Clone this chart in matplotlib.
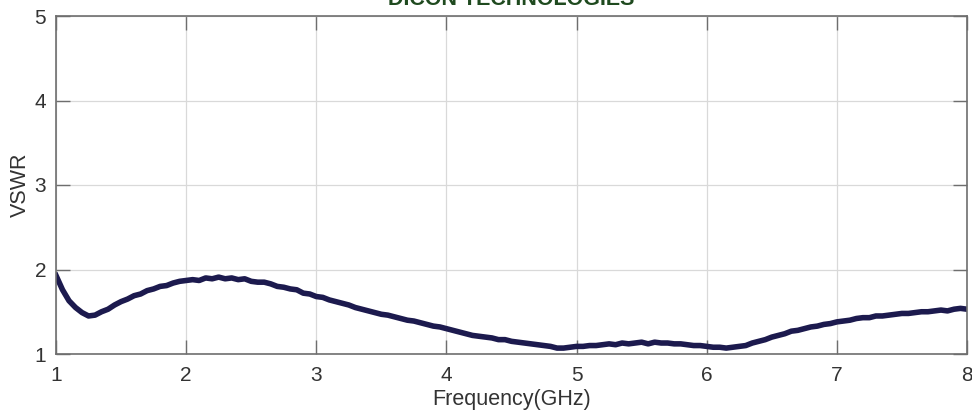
import numpy as np
import matplotlib
matplotlib.use("Agg")
import matplotlib.pyplot as plt

plt.rcParams['font.family'] = ['Liberation Sans', 'DejaVu Sans']

freq_start = 1.0
freq_step = 0.05
vswr = [
    1.93, 1.76, 1.63, 1.55, 1.49, 1.45, 1.46, 1.50, 1.53, 1.58,
    1.62, 1.65, 1.69, 1.71, 1.75, 1.77, 1.80, 1.81, 1.84, 1.86,
    1.87, 1.88, 1.87, 1.90, 1.89, 1.91, 1.89, 1.90, 1.88, 1.89,
    1.86, 1.85, 1.85, 1.83, 1.80, 1.79, 1.77, 1.76, 1.72, 1.71,
    1.68, 1.67, 1.64, 1.62, 1.60, 1.58, 1.55, 1.53, 1.51, 1.49,
    1.47, 1.46, 1.44, 1.42, 1.40, 1.39, 1.37, 1.35, 1.33, 1.32,
    1.30, 1.28, 1.26, 1.24, 1.22, 1.21, 1.20, 1.19, 1.17, 1.17,
    1.15, 1.14, 1.13, 1.12, 1.11, 1.10, 1.09, 1.07, 1.07, 1.08,
    1.09, 1.09, 1.10, 1.10, 1.11, 1.12, 1.11, 1.13, 1.12, 1.13,
    1.14, 1.12, 1.14, 1.13, 1.13, 1.12, 1.12, 1.11, 1.10, 1.10,
    1.09, 1.08, 1.08, 1.07, 1.08, 1.09, 1.10, 1.13, 1.15, 1.17,
    1.20, 1.22, 1.24, 1.27, 1.28, 1.30, 1.32, 1.33, 1.35, 1.36,
    1.38, 1.39, 1.40, 1.42, 1.43, 1.43, 1.45, 1.45, 1.46, 1.47,
    1.48, 1.48, 1.49, 1.50, 1.50, 1.51, 1.52, 1.51, 1.53, 1.54,
    1.53,
]
freq = [round(freq_start + i * freq_step, 2) for i in range(len(vswr))]

x_ticks = [1, 2, 3, 4, 5, 6, 7, 8]
y_ticks = [1, 2, 3, 4, 5]
title = "DICON TECHNOLOGIES"
xlabel = "Frequency(GHz)"
ylabel = "VSWR"

fig = plt.figure(figsize=(9.72, 4.16), dpi=100)
ax = fig.add_axes([56/972, 1-354/416, (967-56)/972, (354-16)/416])

ax.plot(freq, vswr, color='#1c1a4e', linewidth=4.0, solid_joinstyle='round')

ax.set_xlim(1, 8)
ax.set_ylim(1, 5)
ax.set_xticks(x_ticks)
ax.set_yticks(y_ticks)
ax.grid(True, color='#d9d9d9', linewidth=0.9)
ax.set_axisbelow(True)

axis_col = '#6e6e6e'
for s in ax.spines.values():
    s.set_color(axis_col)
    s.set_linewidth(1.2)
ax.tick_params(direction='in', length=10, width=1.0, color=axis_col,
               top=True, right=True, labelsize=15, labelcolor='#333333', pad=7)
ax.tick_params(axis='x', pad=8.5)

ax.set_xlabel(xlabel, fontsize=15.5, color='#333333', labelpad=3)
ax.set_ylabel(ylabel, fontsize=15.5, color='#333333', labelpad=3)

fig.text(511.5/972, 1-5/416, title, ha='center', va='baseline',
         fontsize=15.5, fontweight='bold', color='#1f4a1f')

fig.savefig('out.png', dpi=100)
